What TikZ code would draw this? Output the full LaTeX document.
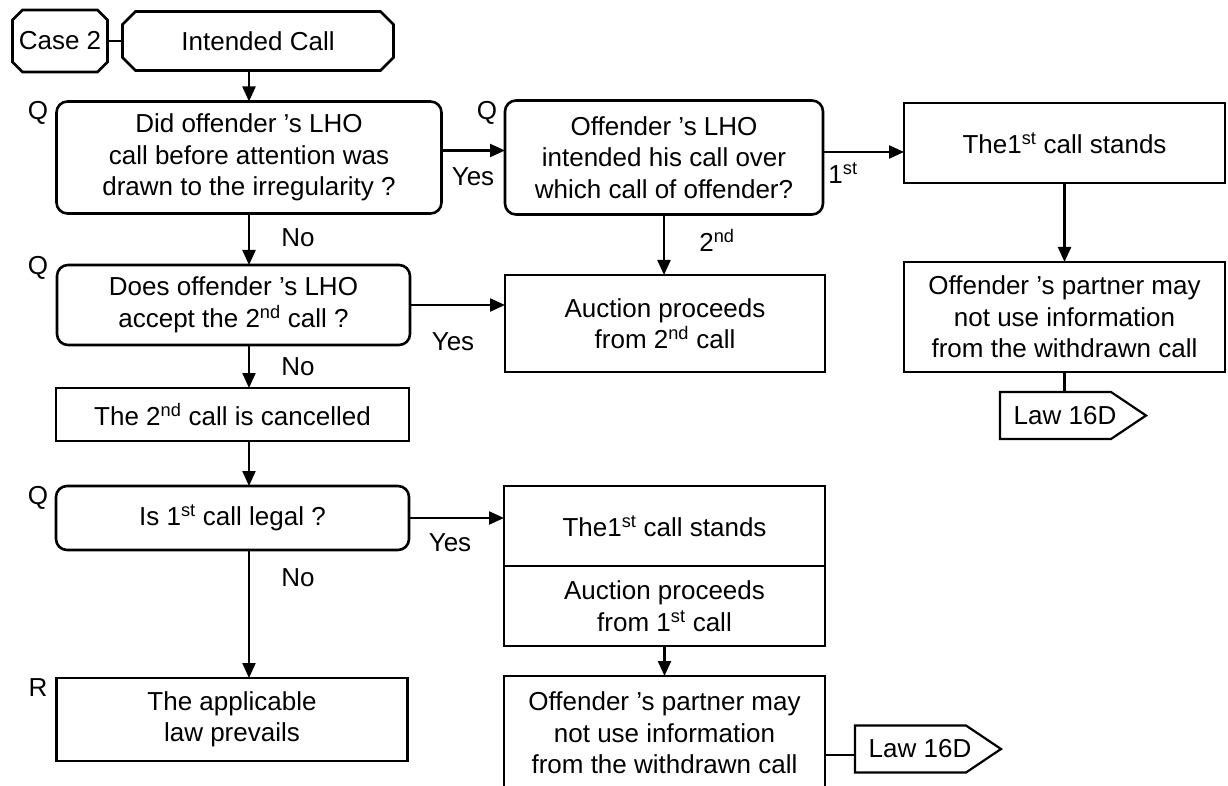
\documentclass[tikz,border=0pt]{standalone}
\usepackage{fontspec}
\setmainfont{Liberation Sans}
\usetikzlibrary{positioning}
\usetikzlibrary{arrows.meta}
\newcommand{\octframe}[2]{\draw[line width=2.6pt] ([xshift=#2]#1.north west) -- ([xshift=-#2]#1.north east) -- ([yshift=-#2]#1.north east) -- ([yshift=#2]#1.south east) -- ([xshift=-#2]#1.south east) -- ([xshift=#2]#1.south west) -- ([yshift=#2]#1.south west) -- ([yshift=-#2]#1.north west) -- cycle;}
\newcommand{\tagframe}[1]{\draw[line width=2.2pt] ([xshift=-65pt,yshift=23.5pt]#1.center) -- ([xshift=46pt,yshift=23.5pt]#1.center) -- ([xshift=81pt]#1.center) -- ([xshift=46pt,yshift=-23.5pt]#1.center) -- ([xshift=-65pt,yshift=-23.5pt]#1.center) -- cycle;}
\tikzset{
	qbox/.style={draw, line width=2.6pt, rounded corners=11pt, align=center, inner sep=0pt, outer sep=0pt},
	rbox/.style={draw, line width=2.6pt, align=center, inner sep=0pt, outer sep=0pt},
	octnode/.style={align=center, inner sep=0pt, outer sep=0pt},
	lawtag/.style={inner sep=0pt, outer sep=0pt},
	flow/.style={line width=2.2pt, -{Triangle[length=15pt,width=13pt]}},
	link/.style={line width=2.2pt}
}
\begin{document}
\begin{tikzpicture}[x=1pt, y=-1pt, font=\fontsize{26}{31.5}\selectfont]
			\clip (0,0) rectangle (1228,786);
			\node at (60,41) (case) [octnode, minimum width=95pt, minimum height=62pt] {Case 2};
			\node at (258,41) (intended) [octnode, minimum width=271pt, minimum height=59pt] {Intended Call};
			\octframe{case}{10pt} \octframe{intended}{13pt}
			\node at (249,157.5) (lhocall) [qbox, minimum width=385pt, minimum height=112pt] {Did offender ’s LHO\\call before attention was\\drawn to the irregularity ?};
			\node at (664,157.5) (overwhich) [qbox, minimum width=318pt, minimum height=114pt] {Offender ’s LHO\\intended his call over\\which call of offender?};
			\node at (1064.5,143) (stands) [rbox, minimum width=321pt, minimum height=80pt] {The1\textsuperscript{st} call stands};
			\node at (1064.5,317) (partner) [rbox, minimum width=321pt, minimum height=110pt] {Offender ’s partner may\\not use information\\from the withdrawn call};
			\node at (1065,415.5) (law) [lawtag] {Law 16D}; \tagframe{law}
			\node at (233.5,305) (accept) [qbox, minimum width=353pt, minimum height=80pt] {Does offender ’s LHO\\accept the 2\textsuperscript{nd} call ?};
			\node at (665,323.5) (fromsecond) [rbox, minimum width=320pt, minimum height=97pt] {Auction proceeds\\from 2\textsuperscript{nd} call};
			\node at (232.5,414.5) (cancelled) [rbox, minimum width=353pt, minimum height=53pt] {The 2\textsuperscript{nd} call is cancelled};
			\node at (232.5,518) (legal) [qbox, minimum width=353pt, minimum height=64pt] {Is 1\textsuperscript{st} call legal ?};
			\node at (232,719.5) (applicable) [rbox, minimum width=351pt, minimum height=83pt] {The applicable\\law prevails};
			\node at (664.5,526) (standsb) [rbox, minimum width=321pt, minimum height=80pt] {The1\textsuperscript{st} call stands};
			\node [rbox, minimum width=321pt, minimum height=80pt, below=0pt of standsb] (fromfirst) {Auction proceeds\\from 1\textsuperscript{st} call};
			\node [rbox, minimum width=321pt, minimum height=114pt, below=30pt of fromfirst] (partnerb) {Offender ’s partner may\\not use information\\from the withdrawn call};
			\node at (920,749) (lawb) [lawtag] {Law 16D}; \tagframe{lawb}
			\node at (38,113) (qa) {Q}; \node at (487,113) (qb) {Q}; \node at (38,268) (qc) {Q}; \node at (38,498) (qd) {Q}; \node at (38,688) (rr) {R};
			\node at (473,177) (yesa) {Yes}; \node at (453,342) (yesb) {Yes}; \node at (450,543) (yesc) {Yes};
			\node at (298,238) (noa) {No}; \node at (298,367) (nob) {No}; \node at (298,578) (noc) {No};
			\node at (843,173) (first) {1\textsuperscript{st}}; \node at (717,240) (second) {2\textsuperscript{nd}};
			\draw[link] (case) -- (intended);
			\draw[flow] (lhocall.north |- intended.south) -- (lhocall.north);
			\draw[flow] ([yshift=7pt]lhocall.east) -- ([yshift=7pt]overwhich.west);
			\draw[flow] ([yshift=5.5pt]overwhich.east) -- ([yshift=5.5pt]overwhich.east -| stands.west);
			\draw[flow] (stands) -- (partner); \draw[link] (partner.south) -- ([yshift=23.5pt]partner.south |- law.center);
			\draw[flow] (overwhich.south) -- (overwhich.south |- fromsecond.north);
			\draw[flow] (lhocall.south) -- (lhocall.south |- accept.north);
			\draw[flow] (accept.east) -- (accept.east -| fromsecond.west);
			\draw[flow] (lhocall.south |- accept.south) -- (lhocall.south |- cancelled.north);
			\draw[flow] (lhocall.south |- cancelled.south) -- (lhocall.south |- legal.north);
			\draw[flow] (lhocall.south |- legal.south) -- (lhocall.south |- applicable.north);
			\draw[flow] (legal.east) -- (legal.east -| standsb.west);
			\draw[flow] (fromfirst.south) -- (partnerb.north); \draw[link] ([yshift=-6pt]partnerb.east |- lawb.center) -- ([xshift=-65pt,yshift=-6pt]lawb.center);
			\end{tikzpicture}
\end{document}
